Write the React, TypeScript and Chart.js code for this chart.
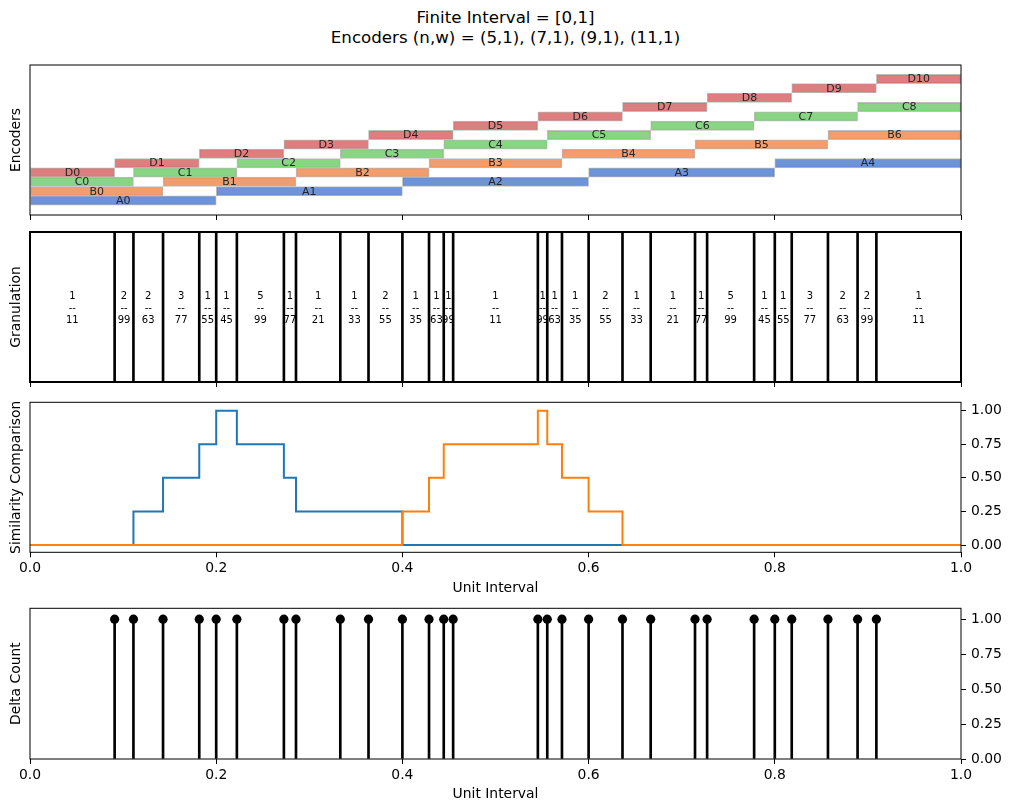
import React, { useEffect, useRef } from 'react';
import { Chart, registerables } from 'chart.js';
Chart.register(...registerables);

// ---------------- DATA ----------------
const boundaries = [0.0909, 0.1111, 0.1429, 0.1818, 0.2, 0.2222, 0.2727, 0.2857, 0.3333, 0.3636, 0.4, 0.4286, 0.4444, 0.4545, 0.5455, 0.5556, 0.5714, 0.6, 0.6364, 0.6667, 0.7143, 0.7273, 0.7778, 0.8, 0.8182, 0.8571, 0.8889, 0.9091];
const encoderAEdges = [0, 0.2, 0.4, 0.6, 0.8, 1];
const encoderBEdges = [0, 0.1429, 0.2857, 0.4286, 0.5714, 0.7143, 0.8571, 1];
const encoderCEdges = [0, 0.1111, 0.2222, 0.3333, 0.4444, 0.5556, 0.6667, 0.7778, 0.8889, 1];
const encoderDEdges = [0, 0.0909, 0.1818, 0.2727, 0.3636, 0.4545, 0.5455, 0.6364, 0.7273, 0.8182, 0.9091, 1];
const encoderNames = ['A', 'B', 'C', 'D'];
const encoderBaseLevels = [0, 1, 2, 3];
const granNumerators = [1, 2, 2, 3, 1, 1, 5, 1, 1, 1, 2, 1, 1, 1, 1, 1, 1, 1, 2, 1, 1, 1, 5, 1, 1, 3, 2, 2, 1];
const granDenominators = [11, 99, 63, 77, 55, 45, 99, 77, 21, 33, 55, 35, 63, 99, 11, 99, 63, 35, 55, 33, 21, 77, 99, 45, 55, 77, 63, 99, 11];
const simBlueX = [0, 0.1111, 0.1429, 0.1818, 0.2, 0.2222, 0.2727, 0.2857, 0.4, 1];
const simBlueY = [0, 0.25, 0.5, 0.75, 1, 0.75, 0.5, 0.25, 0, 0];
const simOrangeX = [0, 0.4, 0.4286, 0.4444, 0.5455, 0.5556, 0.5714, 0.6, 0.6364, 1];
const simOrangeY = [0, 0.25, 0.5, 0.75, 1, 0.75, 0.5, 0.25, 0, 0];
const deltaCounts = [1, 1, 1, 1, 1, 1, 1, 1, 1, 1, 1, 1, 1, 1, 1, 1, 1, 1, 1, 1, 1, 1, 1, 1, 1, 1, 1, 1];
const xTickValues = [0, 0.2, 0.4, 0.6, 0.8, 1.0];
const yTickValues = [0, 0.25, 0.5, 0.75, 1.0];

// ---------------- STYLE ----------------
const FONT = "'DejaVu Sans', 'Liberation Sans', sans-serif";
const FS = 13.9;
const encoderColors = ['rgba(72,120,208,0.8)', 'rgba(238,133,74,0.8)', 'rgba(106,204,100,0.8)', 'rgba(214,95,95,0.8)'];

const spinePlugin = {
  id: 'spines',
  afterDatasetsDraw(chart: any, _a: any, opts: any) {
    const { left, top, right, bottom } = chart.chartArea;
    const ctx = chart.ctx;
    ctx.save();
    ctx.strokeStyle = '#000';
    ctx.lineWidth = opts.width || 1;
    ctx.strokeRect(left, top, right - left, bottom - top);
    ctx.restore();
  },
};

const barLabelPlugin = {
  id: 'barLabels',
  afterDatasetsDraw(chart: any) {
    const ctx = chart.ctx;
    ctx.save();
    ctx.font = `11px ${FONT}`;
    ctx.fillStyle = '#262626';
    ctx.textAlign = 'center';
    ctx.textBaseline = 'middle';
    chart.data.datasets.forEach((ds: any, di: number) => {
      const meta = chart.getDatasetMeta(di);
      meta.data.forEach((el: any, i: number) => {
        const p = el.getProps(['x', 'y', 'base'], true);
        ctx.fillText(encoderNames[di] + i, (p.x + p.base) / 2, p.y + 0.5);
      });
    });
    ctx.restore();
  },
};

const granEdges = [0, ...boundaries, 1];
const granLabelPlugin = {
  id: 'granLabels',
  afterDatasetsDraw(chart: any) {
    const ctx = chart.ctx;
    const xs = chart.scales.x;
    const { top, bottom } = chart.chartArea;
    const cy = (top + bottom) / 2;
    ctx.save();
    ctx.font = `10px ${FONT}`;
    ctx.fillStyle = '#000';
    ctx.textAlign = 'center';
    ctx.textBaseline = 'middle';
    for (let i = 0; i < granNumerators.length; i++) {
      const x = xs.getPixelForValue((granEdges[i] + granEdges[i + 1]) / 2);
      ctx.fillText(String(granNumerators[i]), x, cy - 10.5);
      ctx.fillText('--', x, cy + 1.5);
      ctx.fillText(String(granDenominators[i]), x, cy + 13);
    }
    ctx.restore();
  },
};

function xScale(showLabels: boolean, title: string | null, titlePadBottom: number, height: number) {
  return {
    type: 'linear',
    position: 'bottom',
    min: 0,
    max: 1,
    offset: false,
    afterBuildTicks: (s: any) => { s.ticks = xTickValues.map((v) => ({ value: v })); },
    afterFit: (s: any) => { s.height = height; },
    grid: { display: true, drawOnChartArea: false, drawTicks: true, tickLength: 5, color: '#000', lineWidth: 1, offset: false },
    border: { display: false },
    ticks: {
      display: showLabels, padding: 3, color: '#000', autoSkip: false, maxRotation: 0,
      font: { family: FONT, size: FS },
      callback: (v: any) => Number(v).toFixed(1),
    },
    title: title
      ? { display: true, text: title, color: '#000', font: { family: FONT, size: FS }, padding: { top: 4, bottom: titlePadBottom } }
      : { display: false },
  };
}

function leftTitleScale(text: string, extra: any) {
  return {
    type: 'linear',
    position: 'left',
    offset: false,
    afterFit: (s: any) => { s.width = 30; },
    grid: { display: false, offset: false },
    border: { display: false },
    ticks: { display: false },
    title: { display: true, text, color: '#000', font: { family: FONT, size: FS }, padding: { top: 8, bottom: 0 } },
    ...extra,
  };
}

function rightScale(min: number, max: number) {
  return {
    type: 'linear',
    position: 'right',
    min,
    max,
    afterBuildTicks: (s: any) => { s.ticks = yTickValues.map((v) => ({ value: v })); },
    afterFit: (s: any) => { s.width = 50; },
    grid: { display: true, drawOnChartArea: false, drawTicks: true, tickLength: 5, color: '#000', lineWidth: 1 },
    border: { display: false },
    ticks: { padding: 5, color: '#000', font: { family: FONT, size: FS }, callback: (v: any) => Number(v).toFixed(2) },
  };
}

const baseOptions = {
  animation: false,
  responsive: false,
  devicePixelRatio: 1,
  events: [],
};

function encoderConfig(): any {
  const edgesList = [encoderAEdges, encoderBEdges, encoderCEdges, encoderDEdges];
  return {
    type: 'bar',
    data: {
      datasets: edgesList.map((edges, k) => ({
        label: encoderNames[k],
        data: edges.slice(0, -1).map((s, i) => ({ x: [s, edges[i + 1]], y: encoderBaseLevels[k] + i })),
        backgroundColor: encoderColors[k],
        borderColor: 'rgba(185,185,185,0.9)',
        borderWidth: 1,
        borderSkipped: false,
        grouped: false,
        categoryPercentage: 1,
        barPercentage: 1,
      })),
    },
    options: {
      ...baseOptions,
      indexAxis: 'y',
      layout: { padding: { top: 10, right: 50, left: 0, bottom: 0 } },
      plugins: { legend: { display: false }, tooltip: { enabled: false }, spines: { width: 1 } },
      scales: {
        x: xScale(false, null, 0, 10),
        y: leftTitleScale('Encoders', { min: -1.55, max: 14.5 }),
      },
    },
    plugins: [spinePlugin, barLabelPlugin],
  };
}

function granConfig(): any {
  return {
    type: 'bar',
    data: {
      datasets: [{
        data: boundaries.map((b) => ({ x: b, y: [0, 1] })),
        backgroundColor: '#000',
        barThickness: 2,
        borderWidth: 0,
      }],
    },
    options: {
      ...baseOptions,
      layout: { padding: { top: 10, right: 50, left: 0, bottom: 0 } },
      plugins: { legend: { display: false }, tooltip: { enabled: false }, spines: { width: 2 } },
      scales: {
        x: xScale(false, null, 0, 10),
        y: leftTitleScale('Granulation', { min: 0, max: 1 }),
      },
    },
    plugins: [spinePlugin, granLabelPlugin],
  };
}

function simConfig(): any {
  return {
    type: 'line',
    data: {
      datasets: [
        {
          label: 'orange',
          data: simOrangeX.map((x, i) => ({ x, y: simOrangeY[i] })),
          borderColor: '#ff7f0e', borderWidth: 2, pointRadius: 0, stepped: true, fill: false,
          order: 0, yAxisID: 'y', xAxisID: 'x',
        },
        {
          label: 'blue',
          data: simBlueX.map((x, i) => ({ x, y: simBlueY[i] })),
          borderColor: '#1f77b4', borderWidth: 2, pointRadius: 0, stepped: true, fill: false,
          order: 1, yAxisID: 'y', xAxisID: 'x',
        },
      ],
    },
    options: {
      ...baseOptions,
      layout: { padding: { top: 15.3, right: 0, left: 0, bottom: 0 } },
      plugins: { legend: { display: false }, tooltip: { enabled: false }, spines: { width: 1 } },
      scales: {
        x: xScale(true, 'Unit Interval', 3.7, 47.7),
        yl: leftTitleScale('Similarity Comparison', { min: 0, max: 1 }),
        y: rightScale(-0.054, 1.062),
      },
    },
    plugins: [spinePlugin],
  };
}

function deltaConfig(): any {
  return {
    type: 'bar',
    data: {
      datasets: [
        {
          type: 'scatter',
          data: boundaries.map((b, i) => ({ x: b, y: deltaCounts[i] })),
          backgroundColor: '#000', borderColor: '#000', pointRadius: 4.6, pointBorderWidth: 0,
          order: 0, yAxisID: 'y', xAxisID: 'x',
        },
        {
          type: 'bar',
          data: boundaries.map((b, i) => ({ x: b, y: deltaCounts[i] })),
          backgroundColor: '#000', barThickness: 2, borderWidth: 0,
          order: 1, yAxisID: 'y', xAxisID: 'x',
        },
      ],
    },
    options: {
      ...baseOptions,
      layout: { padding: { top: 15.3, right: 0, left: 0, bottom: 0 } },
      plugins: { legend: { display: false }, tooltip: { enabled: false }, spines: { width: 1 } },
      scales: {
        x: xScale(true, 'Unit Interval', 4.7, 48),
        yl: leftTitleScale('Delta Count', { min: 0, max: 1 }),
        y: rightScale(0, 1.078),
      },
    },
    plugins: [spinePlugin],
  };
}

const panels = [
  { top: 55, height: 170, make: encoderConfig },
  { top: 222, height: 170, make: granConfig },
  { top: 387, height: 213, make: simConfig },
  { top: 593, height: 214, make: deltaConfig },
];

export default function App() {
  const refs = [useRef<HTMLCanvasElement>(null), useRef<HTMLCanvasElement>(null), useRef<HTMLCanvasElement>(null), useRef<HTMLCanvasElement>(null)];
  useEffect(() => {
    const charts = panels.map((p, i) => new Chart(refs[i].current as HTMLCanvasElement, p.make()));
    return () => charts.forEach((c) => c.destroy());
  }, []);
  return (
    <div style={{ position: 'absolute', left: 0, top: 0, width: 1011, height: 811, background: '#fff', overflow: 'hidden' }}>
      <div style={{ position: 'absolute', left: 0, top: 8, width: 1011, textAlign: 'center', fontFamily: FONT, fontSize: 16.67, lineHeight: '20px', color: '#000' }}>
        <div>Finite Interval = [0,1]</div>
        <div>Encoders (n,w) = (5,1), (7,1), (9,1), (11,1)</div>
      </div>
      {panels.map((p, i) => (
        <canvas
          key={i}
          ref={refs[i]}
          width={1011}
          height={p.height}
          style={{ position: 'absolute', left: 0, top: p.top, width: 1011, height: p.height }}
        />
      ))}
    </div>
  );
}
